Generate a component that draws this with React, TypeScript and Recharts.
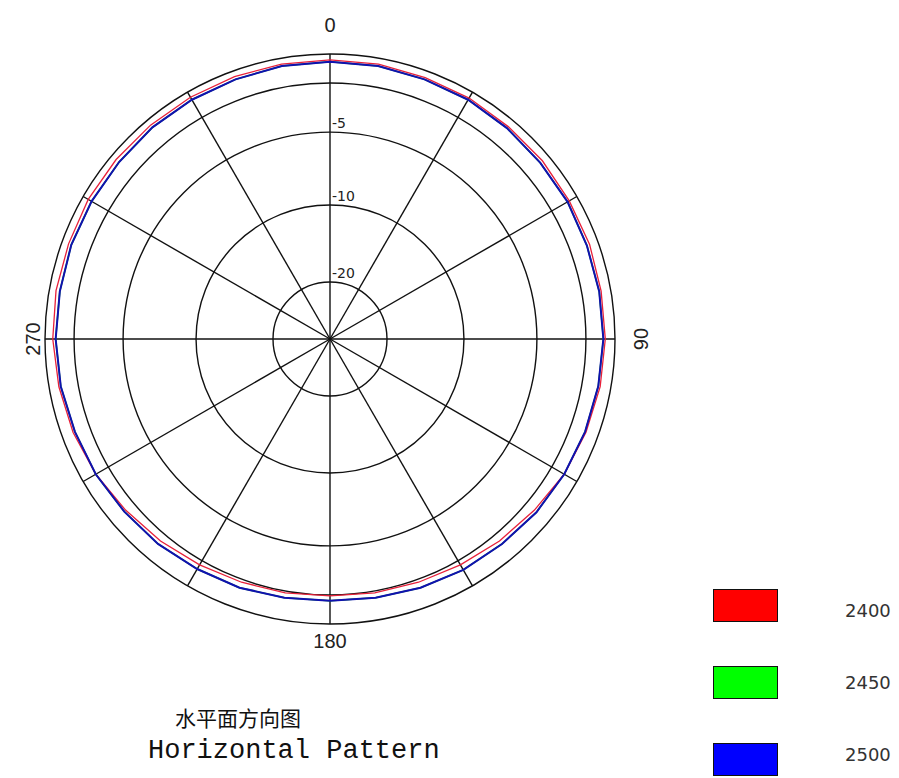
import { RadarChart, Radar, PolarGrid, PolarAngleAxis, PolarRadiusAxis } from "recharts";

// azimuth in degrees, clockwise from the top
const angles = [
  0, 10, 20, 30, 40, 50, 60, 70, 80, 90, 100, 110, 120, 130, 140, 150, 160, 170,
  180, 190, 200, 210, 220, 230, 240, 250, 260, 270, 280, 290, 300, 310, 320, 330, 340, 350,
];

// relative gain in dB
const gain2400 = [
  -0.6, -0.6, -0.7, -0.7, -0.8, -0.8, -0.9, -0.9, -1.0, -1.0, -1.1, -1.3, -1.5, -1.9, -2.2, -2.5, -2.7, -2.8,
  -2.9, -2.8, -2.7, -2.5, -2.2, -1.9, -1.5, -1.2, -1.0, -0.8, -0.7, -0.7, -0.6, -0.6, -0.6, -0.6, -0.6, -0.6,
];
const gain2450 = [
  -0.8, -0.8, -0.9, -0.9, -1.0, -1.1, -1.1, -1.2, -1.2, -1.2, -1.3, -1.4, -1.5, -1.6, -1.8, -1.9, -2.1, -2.3,
  -2.4, -2.3, -2.1, -2.0, -1.8, -1.7, -1.5, -1.4, -1.2, -1.1, -1.1, -1.0, -1.0, -1.0, -0.9, -0.9, -0.9, -0.8,
];
const gain2500 = [
  -0.8, -0.8, -0.9, -0.9, -1.0, -1.1, -1.1, -1.2, -1.2, -1.2, -1.3, -1.4, -1.5, -1.6, -1.8, -1.9, -2.1, -2.3,
  -2.4, -2.3, -2.1, -2.0, -1.8, -1.7, -1.5, -1.4, -1.2, -1.1, -1.1, -1.0, -1.0, -1.0, -0.9, -0.9, -0.9, -0.8,
];

const ringDb = [-20, -10, -5, -3, 0];
const ringLabels = ["-20", "-10", "-5", "", ""];
const angleLabels = ["0", "90", "180", "270"];
const spokeAngles = [0, 30, 60, 90, 120, 150, 180, 210, 240, 270, 300, 330];
const seriesNames = ["2400", "2450", "2500"];
const seriesColors = ["#ff0000", "#00ff00", "#0000ff"];

// the plot's radial scale is not linear in dB: dB -> percent of outer radius
const dbStops = [-30, -20, -10, -5, -3, 0];
const levelStops = [0, 20, 47, 72.6, 89.8, 100];
function dbToLevel(db: number) {
  for (let i = 1; i < dbStops.length; i++) {
    if (db <= dbStops[i]) {
      const t = (db - dbStops[i - 1]) / (dbStops[i] - dbStops[i - 1]);
      return levelStops[i - 1] + t * (levelStops[i] - levelStops[i - 1]);
    }
  }
  return 100;
}

const ringLevels = ringDb.map(dbToLevel);

const data = angles.map((a, i) => ({
  angle: a,
  s2400: dbToLevel(gain2400[i]),
  s2450: dbToLevel(gain2450[i]),
  s2500: dbToLevel(gain2500[i]),
}));

const CX = 330;
const CY = 339;
const R = 285;

const labelPush: Record<string, number> = { "0": 21, "90": 18, "180": 9, "270": 4 };

function AngleTick(props: any) {
  const { x, y, payload } = props;
  const label = String(payload.value);
  if (!angleLabels.includes(label)) return <g />;
  const dx = x - CX;
  const dy = y - CY;
  const len = Math.sqrt(dx * dx + dy * dy) || 1;
  const px = x + (dx / len) * labelPush[label];
  const py = y + (dy / len) * labelPush[label];
  const rotate = label === "90" || label === "270" ? -90 : 0;
  return (
    <text
      x={px}
      y={py}
      textAnchor="middle"
      dominantBaseline="central"
      fontFamily="Liberation Sans, Arial, sans-serif"
      fontSize={20}
      fill="#222"
      transform={rotate ? `rotate(${rotate} ${px} ${py})` : undefined}
    >
      {label}
    </text>
  );
}

function RingTick(props: any) {
  const { x, y, payload } = props;
  const idx = ringLevels.findIndex((l) => Math.abs(l - payload.value) < 0.01);
  const label = idx >= 0 ? ringLabels[idx] : "";
  if (!label) return <g />;
  return (
    <text x={x + 2} y={y - 4} fontFamily="DejaVu Sans, sans-serif" fontSize={14} fill="#222">
      {label}
    </text>
  );
}

export default function App() {
  return (
    <div style={{ position: "absolute", left: 0, top: 0, width: 899, height: 778, background: "#fff" }}>
      <RadarChart
        width={899}
        height={778}
        data={data}
        cx={CX}
        cy={CY}
        outerRadius={R}
        startAngle={90}
        endAngle={-270}
        margin={{ top: 0, right: 0, bottom: 0, left: 0 }}
      >
        <PolarGrid gridType="circle" polarAngles={spokeAngles} stroke="#111" strokeWidth={1.4} strokeOpacity={1} />
        <PolarAngleAxis dataKey="angle" axisLine={false} tickLine={false} tick={<AngleTick />} />
        <PolarRadiusAxis
          type="number"
          angle={90}
          domain={[0, 100]}
          ticks={ringLevels}
          axisLine={false}
          tickLine={false}
          tick={<RingTick />}
        />
        <Radar dataKey="s2450" stroke="#00c000" strokeWidth={1.5} fill="none" fillOpacity={0} isAnimationActive={false} />
        <Radar dataKey="s2400" stroke="#e8203a" strokeWidth={1.3} fill="none" fillOpacity={0} isAnimationActive={false} />
        <Radar dataKey="s2500" stroke="#1010b0" strokeWidth={2} fill="none" fillOpacity={0} isAnimationActive={false} />
      </RadarChart>

      {seriesNames.map((name, i) => (
        <div key={name}>
          <div
            style={{
              position: "absolute",
              left: 713,
              top: 589 + i * 77,
              width: 63,
              height: 31,
              background: seriesColors[i],
              border: "1px solid #111",
            }}
          />
          <div
            style={{
              position: "absolute",
              left: 845,
              top: 600 + i * 72,
              fontFamily: "DejaVu Sans, sans-serif",
              fontSize: 18,
              color: "#333",
              lineHeight: "22px",
            }}
          >
            {name}
          </div>
        </div>
      ))}

      <div
        style={{
          position: "absolute",
          left: 175,
          top: 704,
          fontFamily: "Noto Sans CJK SC, sans-serif",
          fontSize: 21,
          lineHeight: "26px",
          color: "#111",
        }}
      >
        水平面方向图
      </div>
      <div
        style={{
          position: "absolute",
          left: 148,
          top: 736,
          fontFamily: "Liberation Mono, monospace",
          fontSize: 27,
          lineHeight: "30px",
          color: "#111",
          whiteSpace: "nowrap",
        }}
      >
        Horizontal Pattern
      </div>
    </div>
  );
}
